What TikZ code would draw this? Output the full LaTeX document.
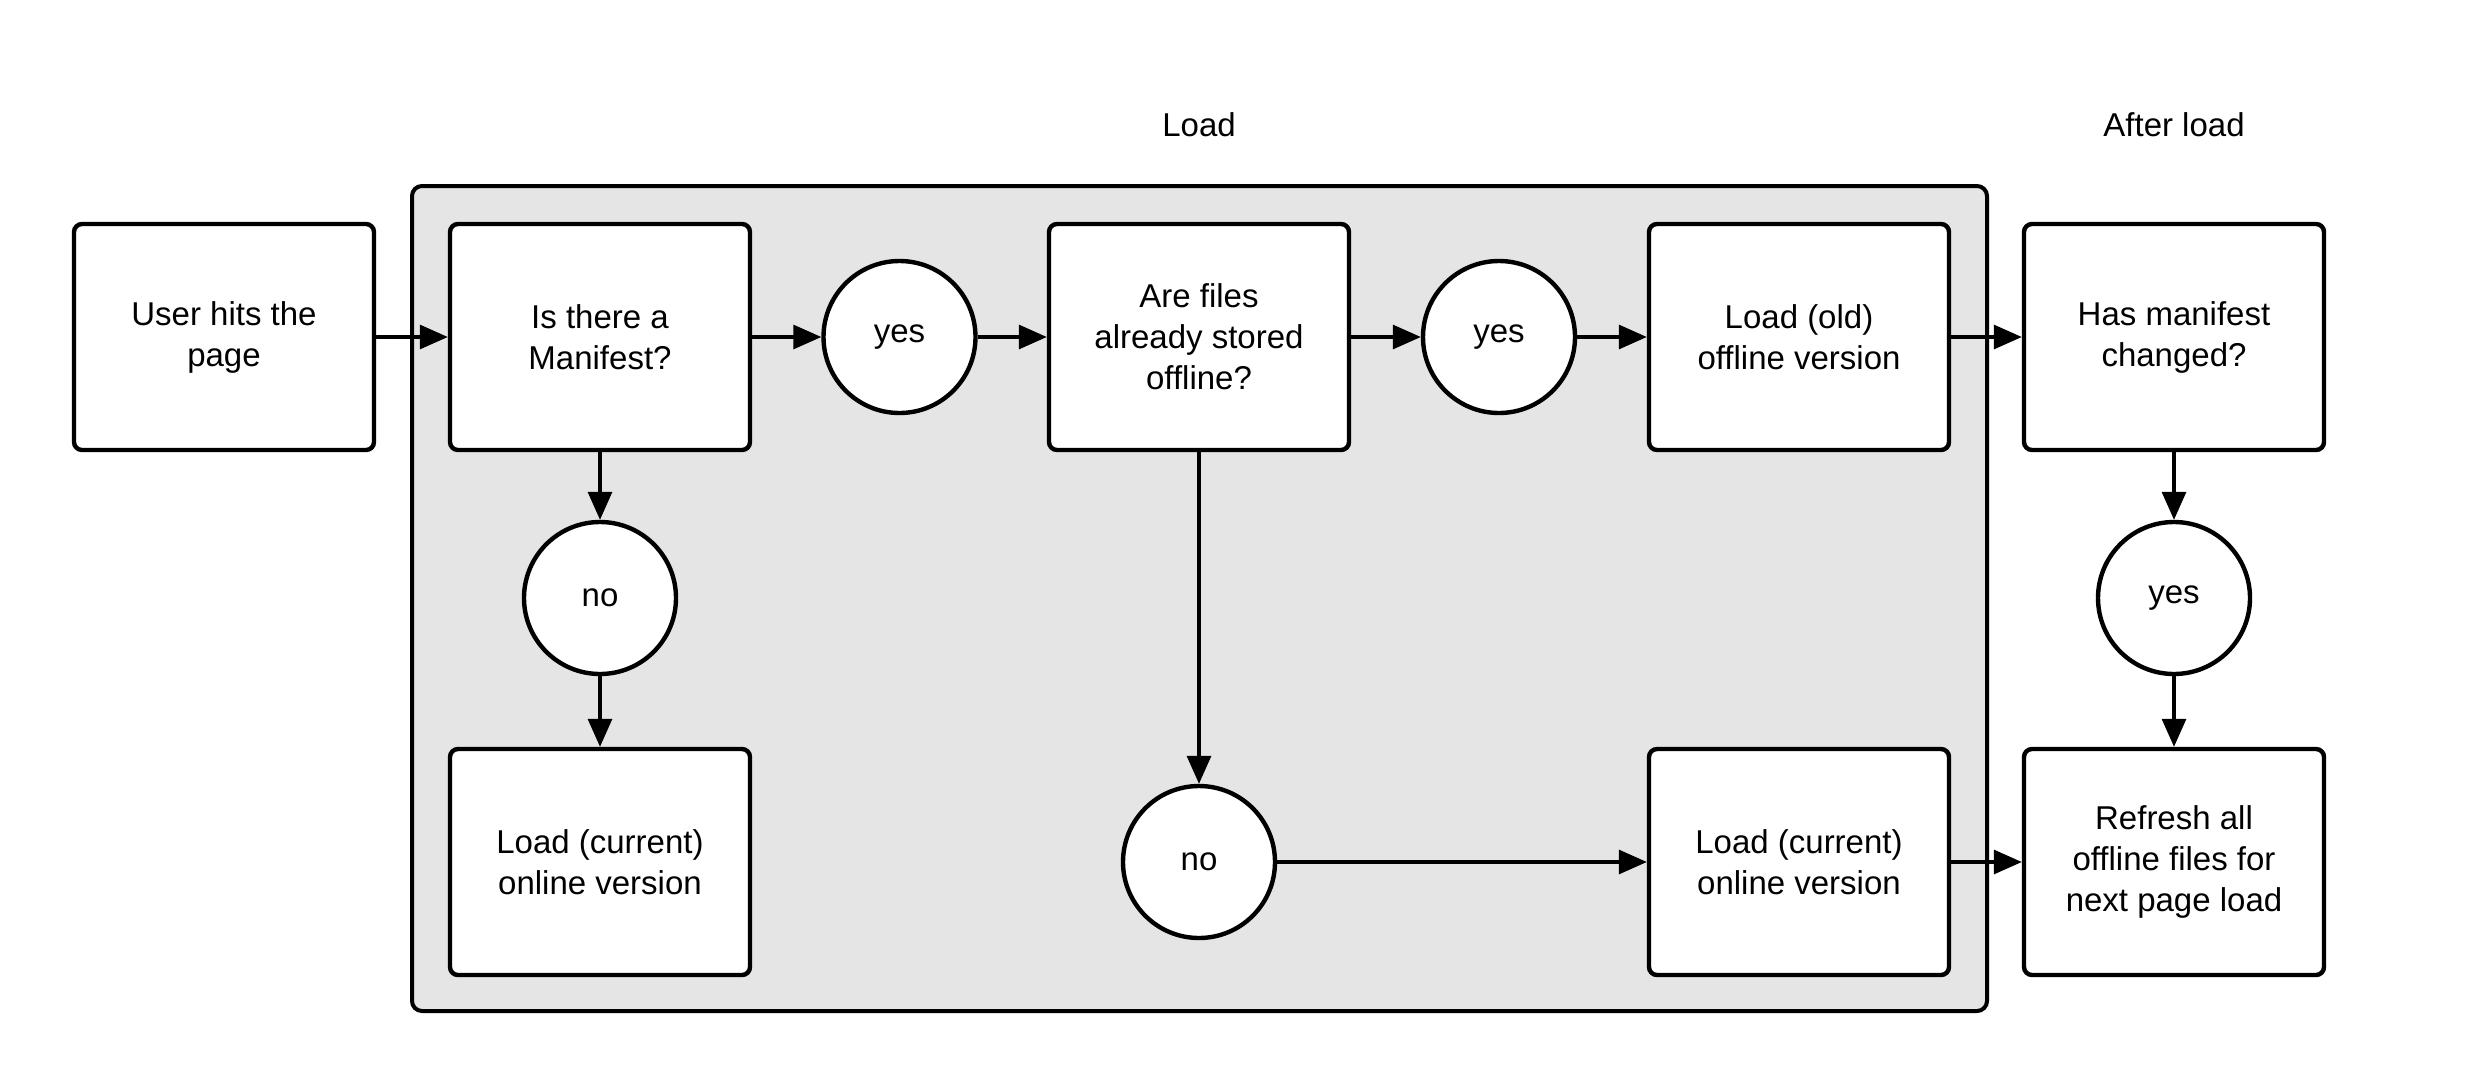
\documentclass[tikz,border=0pt]{standalone}
\usepackage{fontspec}
\setmainfont{Liberation Sans}
\usetikzlibrary{arrows.meta}
\definecolor{groupgrey}{RGB}{229,229,229}
\begin{document}
\begin{tikzpicture}[x=0.5pt,y=-0.5pt,
  txt/.style={font=\fontsize{16.5pt}{20.5pt}\selectfont, align=center},
  stepbox/.style={txt, draw, line width=2.2pt, rounded corners=4pt, fill=white,
    minimum width=150pt, minimum height=113pt, inner sep=0pt},
  circ/.style={txt, circle, draw, line width=2.2pt, fill=white, minimum size=76pt, inner sep=0pt},
  groupbox/.style={draw, line width=2pt, rounded corners=5pt, fill=groupgrey,
    minimum width=787.5pt, minimum height=412.5pt, inner sep=0pt},
  arr/.style={-{Triangle[length=14pt,width=12pt]}, line width=1.6pt}]
\useasboundingbox (0,0) rectangle (2475,1088);
\fill[white] (0,0) rectangle (2475,1088);

\node[groupbox] (grp) at (1199.5,598.5) {};
\node[txt] (lload) at (1199,125) {Load};
\node[txt] (lafter) at (2174,125) {After load};

\node[stepbox] (user) at (224,337) {User hits the\\page};
\node[stepbox] (man) at (600,337) {Is there a\\Manifest?};
\node[circ] (yes1) at (899.5,337) {yes};
\node[stepbox] (files) at (1199,337) {Are files\\already stored\\offline?};
\node[circ] (yes2) at (1499,337) {yes};
\node[stepbox] (old) at (1799,337) {Load (old)\\offline version};
\node[stepbox] (has) at (2174,337) {Has manifest\\changed?};

\node[circ] (no1) at (600,598) {no};
\node[circ] (yes3) at (2174,598) {yes};

\node[stepbox] (cur1) at (600,862) {Load (current)\\online version};
\node[circ] (no2) at (1199,862) {no};
\node[stepbox] (cur2) at (1799,862) {Load (current)\\online version};
\node[stepbox] (ref) at (2174,862) {Refresh all\\offline files for\\next page load};

\draw[arr] (user) -- (man);
\draw[arr] (man) -- (yes1);
\draw[arr] (yes1) -- (files);
\draw[arr] (files) -- (yes2);
\draw[arr] (yes2) -- (old);
\draw[arr] (old) -- (has);
\draw[arr] (man) -- (no1);
\draw[arr] (no1) -- (cur1);
\draw[arr] (files) -- (no2);
\draw[arr] (no2) -- (cur2);
\draw[arr] (cur2) -- (ref);
\draw[arr] (has) -- (yes3);
\draw[arr] (yes3) -- (ref);
\end{tikzpicture}
\end{document}
